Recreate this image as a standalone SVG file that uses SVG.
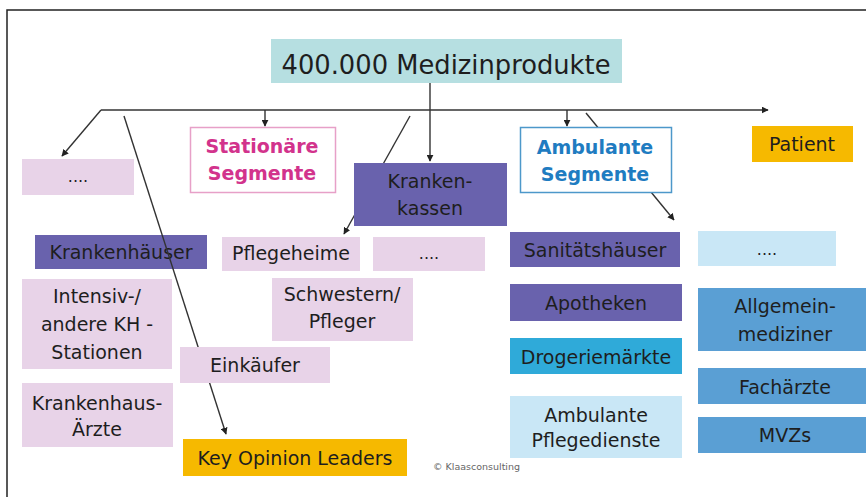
<svg xmlns="http://www.w3.org/2000/svg" width="866" height="497" viewBox="0 0 866 497">
<defs>
<marker id="ah" viewBox="0 0 10 10" refX="9" refY="5" markerWidth="7" markerHeight="7" markerUnits="userSpaceOnUse" orient="auto">
<path d="M0,0 L10,5 L0,10 z" fill="#222"/>
</marker>
<style>
text{font-family:"DejaVu Sans","Liberation Sans",sans-serif;font-size:19px;fill:#1e1e1e;text-anchor:middle}
.conn{stroke:#333;stroke-width:1.4;fill:none}
.pink{fill:#e8d3e8}
.purple{fill:#6962ad}
.yellow{fill:#f6b900}
.lblue{fill:#c9e7f6}
.mblue{fill:#5a9fd4}
.cyan{fill:#2faad9}
.seg{font-weight:bold}
.dots{font-size:16px}
.title{font-size:27px}
.copy{font-size:9.5px;text-anchor:start;fill:#666}
</style>
</defs>
<rect x="0" y="0" width="866" height="497" fill="#ffffff"/>
<path d="M7,497 L7,10 L866,10" stroke="#222" stroke-width="1.5" fill="none"/>

<g id="n-top"><rect x="271" y="39" width="351" height="44" fill="#b6dfe1"/><text class="title" x="446" y="74" textLength="329" lengthAdjust="spacingAndGlyphs">400.000 Medizinprodukte</text></g>
<g id="n-dots1"><rect class="pink" x="22" y="159" width="112" height="36"/><text class="dots" x="78" y="182">....</text></g>
<g id="n-stationaer"><rect x="190.5" y="127.5" width="145" height="65" fill="#fff" stroke="#e7a0c8" stroke-width="1.5"/><text class="seg" x="262" y="153" style="fill:#d2338c">Stationäre</text><text class="seg" x="262" y="180" style="fill:#d2338c">Segmente</text></g>
<g id="n-krankenhaeuser"><rect class="purple" x="35" y="235" width="172" height="34"/><text x="121" y="259">Krankenhäuser</text></g>
<g id="n-pflegeheime"><rect class="pink" x="222" y="237" width="138" height="34"/><text x="291" y="260">Pflegeheime</text></g>
<g id="n-dots2"><rect class="pink" x="373" y="237" width="112" height="34"/><text class="dots" x="429" y="259">....</text></g>
<g id="n-intensiv"><rect class="pink" x="22" y="279" width="150" height="90"/><text x="97" y="303">Intensiv-/</text><text x="97" y="331">andere KH -</text><text x="97" y="359">Stationen</text></g>
<g id="n-schwestern"><rect class="pink" x="272" y="278" width="141" height="63"/><text x="342" y="301">Schwestern/</text><text x="342" y="328">Pfleger</text></g>
<g id="n-khaerzte"><rect class="pink" x="22" y="383" width="151" height="64"/><text x="97" y="410">Krankenhaus-</text><text x="97" y="436">Ärzte</text></g>
<g id="n-kol"><rect class="yellow" x="183" y="439" width="224" height="37"/><text x="295" y="465">Key Opinion Leaders</text></g>

<g id="connectors">
<line class="conn" x1="430" y1="83" x2="430" y2="161" marker-end="url(#ah)"/>
<line class="conn" x1="101" y1="110" x2="768" y2="110" marker-end="url(#ah)"/>
<line class="conn" x1="101" y1="110" x2="62" y2="156" marker-end="url(#ah)"/>
<line class="conn" x1="124" y1="116" x2="226" y2="434" marker-end="url(#ah)"/>
<line class="conn" x1="265" y1="110" x2="265" y2="126" marker-end="url(#ah)"/>
<line class="conn" x1="410" y1="116" x2="344" y2="234" marker-end="url(#ah)"/>
<line class="conn" x1="567" y1="110" x2="567" y2="126" marker-end="url(#ah)"/>
<line class="conn" x1="586" y1="113" x2="674" y2="220" marker-end="url(#ah)"/>
</g>

<g id="n-einkaeufer"><rect class="pink" x="180" y="347" width="150" height="36"/><text x="255" y="372">Einkäufer</text></g>
<g id="n-krankenkassen"><rect class="purple" x="354" y="163" width="153" height="63"/><text x="430" y="188">Kranken-</text><text x="430" y="215">kassen</text></g>
<g id="n-ambulant"><rect x="520.5" y="127.5" width="151" height="65" fill="#fff" stroke="#4d98ca" stroke-width="1.5"/><text class="seg" x="595" y="154" style="fill:#1f7cc1">Ambulante</text><text class="seg" x="595" y="181" style="fill:#1f7cc1">Segmente</text></g>
<g id="n-patient"><rect class="yellow" x="752" y="126" width="101" height="36"/><text x="802" y="151">Patient</text></g>
<g id="n-sanitaet"><rect class="purple" x="510" y="232" width="170" height="35"/><text x="595" y="257">Sanitätshäuser</text></g>
<g id="n-dots3"><rect class="lblue" x="698" y="231" width="138" height="35"/><text class="dots" x="767" y="255">....</text></g>
<g id="n-apotheken"><rect class="purple" x="510" y="284" width="172" height="37"/><text x="596" y="310">Apotheken</text></g>
<g id="n-drogerie"><rect class="cyan" x="510" y="338" width="172" height="36"/><text x="596" y="364">Drogeriemärkte</text></g>
<g id="n-pflegedienste"><rect class="lblue" x="510" y="396" width="172" height="62"/><text x="596" y="422">Ambulante</text><text x="596" y="447">Pflegedienste</text></g>
<g id="n-allgemein"><rect class="mblue" x="698" y="288" width="174" height="63"/><text x="785" y="313">Allgemein-</text><text x="785" y="341">mediziner</text></g>
<g id="n-fachaerzte"><rect class="mblue" x="698" y="368" width="174" height="36"/><text x="785" y="394">Fachärzte</text></g>
<g id="n-mvz"><rect class="mblue" x="698" y="417" width="174" height="36"/><text x="785" y="442">MVZs</text></g>
<text class="copy" x="433" y="470">© Klaasconsulting</text>
</svg>
